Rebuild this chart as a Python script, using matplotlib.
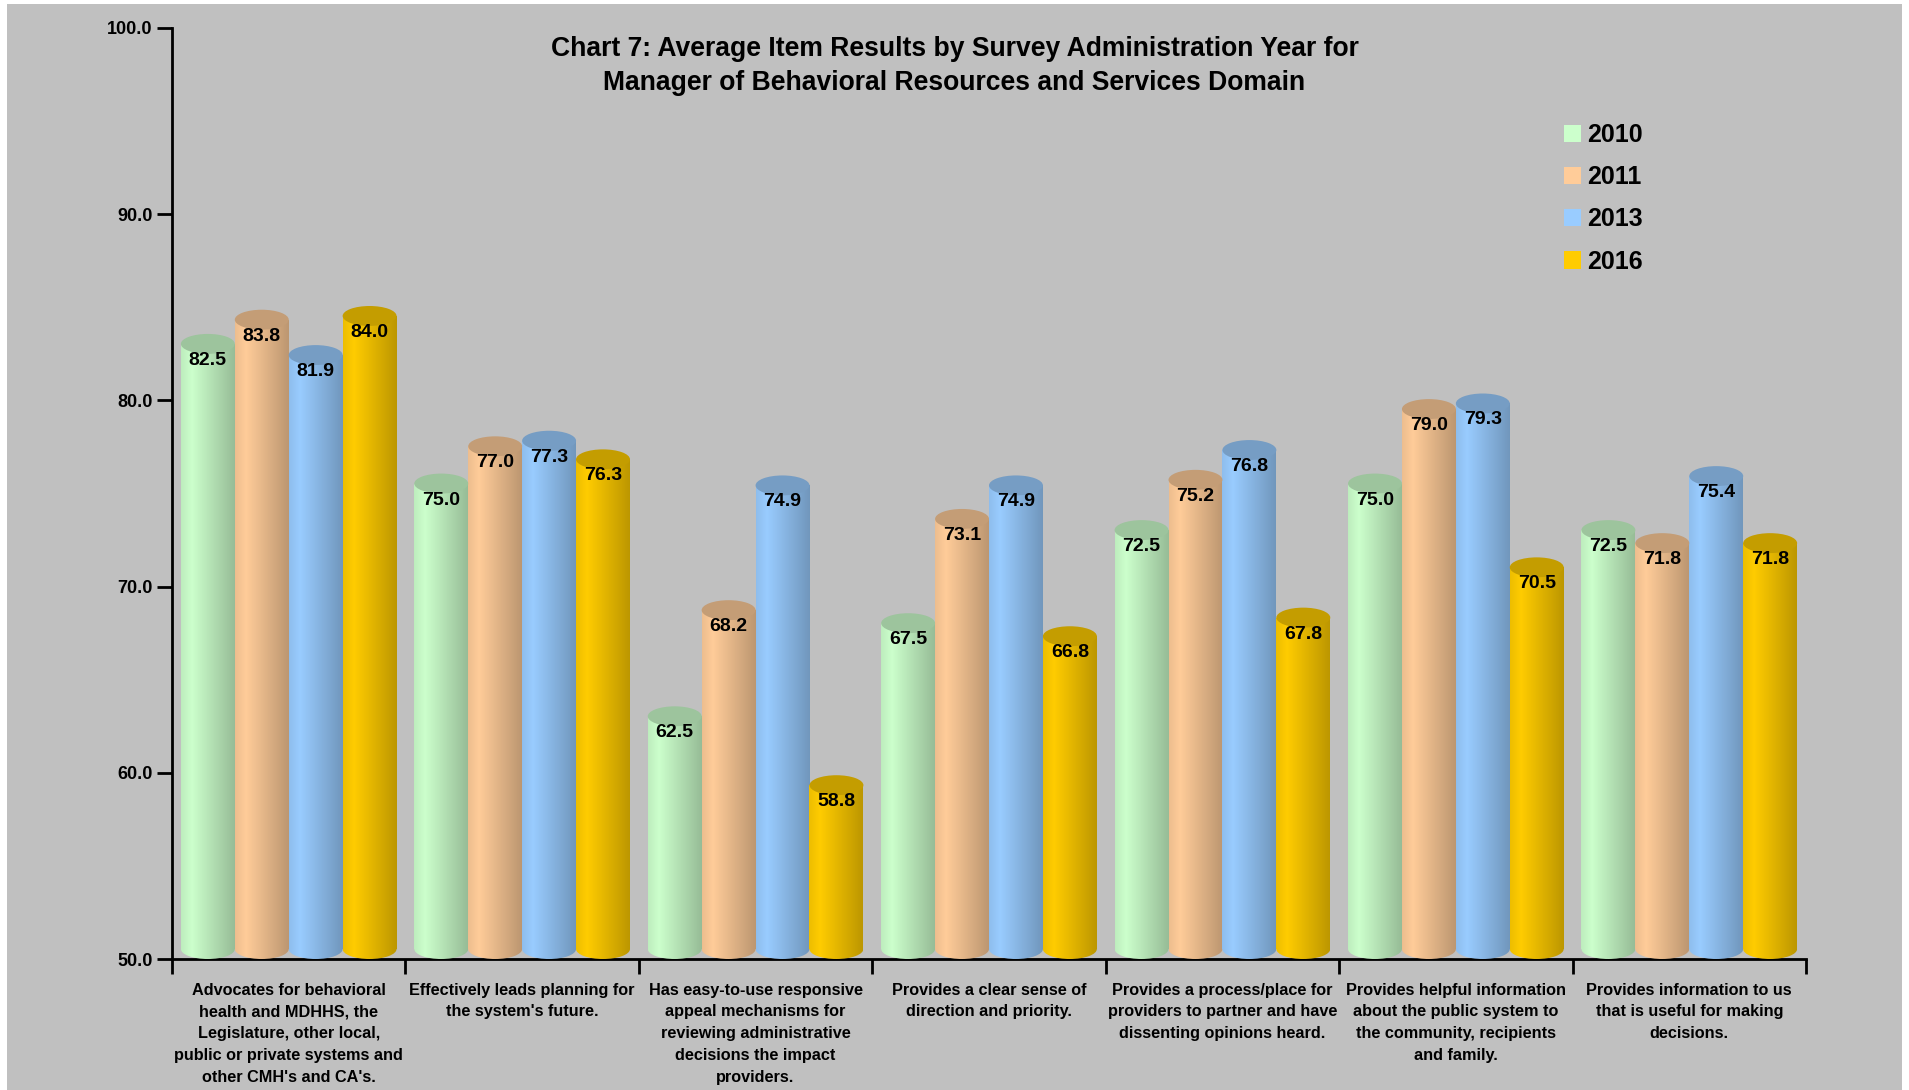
import numpy as np
import matplotlib
matplotlib.use("Agg")
import matplotlib.pyplot as plt
from matplotlib.patches import Ellipse, Rectangle
from matplotlib.colors import to_rgb

plt.rcParams["font.family"] = ["Liberation Sans", "DejaVu Sans"]
plt.rcParams["font.weight"] = "bold"

categories = [
    "Advocates for behavioral\nhealth and MDHHS, the\nLegislature, other local,\npublic or private systems and\nother CMH's and CA's.",
    "Effectively leads planning for\nthe system's future.",
    "Has easy-to-use responsive\nappeal mechanisms for\nreviewing administrative\ndecisions the impact\nproviders.",
    "Provides a clear sense of\ndirection and priority.",
    "Provides a process/place for\nproviders to partner and have\ndissenting opinions heard.",
    "Provides helpful information\nabout the public system to\nthe community, recipients\nand family.",
    "Provides information to us\nthat is useful for making\ndecisions.",
]
years = ["2010", "2011", "2013", "2016"]
v2010 = [82.5, 75.0, 62.5, 67.5, 72.5, 75.0, 72.5]
v2011 = [83.8, 77.0, 68.2, 73.1, 75.2, 79.0, 71.8]
v2013 = [81.9, 77.3, 74.9, 74.9, 76.8, 79.3, 75.4]
v2016 = [84.0, 76.3, 58.8, 66.8, 67.8, 70.5, 71.8]
series = [v2010, v2011, v2013, v2016]
colors = ["#CCFFCC", "#FFCC99", "#99CCFF", "#FFCC00"]

BG = "#C0C0C0"
BASE = 50.0
BAR_W = 0.231
CAP_H = 1.07  # ellipse height of the cylinder caps, in data units

fig = plt.figure(figsize=(19.09, 10.90), dpi=100, facecolor="white")
fig.patches.append(Rectangle((7 / 1909, 0), 1895 / 1909, 1 - 4 / 1090,
                             transform=fig.transFigure, facecolor=BG,
                             edgecolor="none", zorder=-10))
ax = fig.add_axes([172 / 1909, 1 - 959 / 1090, 1634 / 1909, 931 / 1090])
ax.set_facecolor(BG)

# horizontal shading profile across a cylinder (left highlight, darker right)
prof_t = [0.0, 0.2, 1.0]
prof_f = [0.93, 1.0, 0.74]
tt = np.linspace(0, 1, 64)
shade = np.interp(tt, prof_t, prof_f)

x = np.arange(len(categories))
for i, (vals, col, yr) in enumerate(zip(series, colors, years)):
    xpos = x + (i - 1.5) * BAR_W
    heights = np.array(vals) - BASE
    bars = ax.bar(xpos, heights, width=BAR_W, bottom=BASE + CAP_H / 2,
                  color=col, edgecolor="none", label=yr, zorder=2)
    rgb = np.array(to_rgb(col))
    grad = np.clip(shade[:, None] * rgb[None, :], 0, 1)[None, :, :]
    top_col = rgb * 0.77
    for xc, v, b in zip(xpos, vals, bars):
        x0 = xc - BAR_W / 2
        ext = [x0, x0 + BAR_W, BASE, v + CAP_H / 2]
        im = ax.imshow(grad, extent=ext, aspect="auto", zorder=3,
                       interpolation="bilinear")
        im.set_clip_path(b)
        bottom = Ellipse((xc, BASE + CAP_H / 2), BAR_W, CAP_H,
                         transform=ax.transData)
        im2 = ax.imshow(grad, extent=ext, aspect="auto", zorder=3,
                        interpolation="bilinear")
        im2.set_clip_path(bottom)
        ax.add_patch(Ellipse((xc, v + CAP_H / 2), BAR_W, CAP_H,
                             facecolor=top_col, edgecolor="none", zorder=4))
        ax.text(xc, v - 0.35, f"{v:.1f}", ha="center", va="center",
                fontsize=14, fontweight="bold", zorder=5)

ax.set_xlim(-0.5, len(categories) - 0.5)
ax.set_ylim(50, 100)
ax.set_yticks(np.arange(50, 101, 10))
ax.set_yticklabels([f"{t:.1f}" for t in np.arange(50, 101, 10)],
                   fontsize=13, fontweight="bold")
ax.set_xticks(np.arange(-0.5, len(categories)), labels=[])
ax.set_xticks(x, labels=categories, minor=True)
for lab in ax.get_xticklabels(minor=True):
    lab.set_fontsize(11.7)
    lab.set_fontweight("bold")
    lab.set_linespacing(1.57)
    lab.set_verticalalignment("top")
ax.tick_params(axis="x", which="major", direction="out", length=11, width=2)
ax.tick_params(axis="x", which="minor", length=0, pad=17)
ax.tick_params(axis="y", direction="out", length=11, width=2, pad=3)

for s in ["top", "right"]:
    ax.spines[s].set_visible(False)
for s in ["left", "bottom"]:
    ax.spines[s].set_linewidth(2)
    ax.spines[s].set_color("black")

fig.text(0.5, 1 - 66 / 1090,
         "Chart 7: Average Item Results by Survey Administration Year for\n"
         "Manager of Behavioral Resources and Services Domain",
         ha="center", va="center", fontsize=19.1, fontweight="bold",
         linespacing=1.39)

ax.legend(loc="upper left", bbox_to_anchor=(1564 / 1909, 1 - 123 / 1090),
          bbox_transform=fig.transFigure, frameon=False,
          prop={"size": 18, "weight": "bold"}, handlelength=0.68,
          handleheight=0.68, handletextpad=0.25, labelspacing=0.73,
          borderpad=0, borderaxespad=0)

fig.savefig("out.png", dpi=100, facecolor=fig.get_facecolor())
